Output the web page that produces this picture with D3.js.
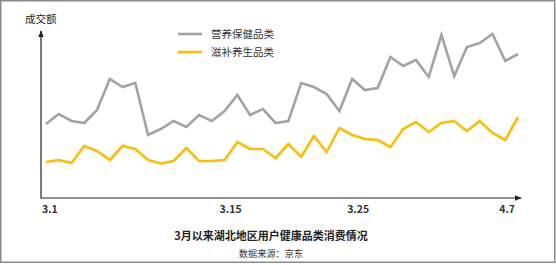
<!DOCTYPE html>
<html>
<head>
<meta charset="utf-8">
<script src="https://cdn.jsdelivr.net/npm/d3@7"></script>
<style>
  body { margin: 0; background: #fff; }
  text { font-family: "Noto Sans CJK SC", "Noto Sans", sans-serif; }
</style>
</head>
<body>
<div id="vis"></div>
<script>
// dates, 3.1 to 4.7
var dates = ['3.1', '3.2', '3.3', '3.4', '3.5', '3.6', '3.7', '3.8', '3.9', '3.10',
  '3.11', '3.12', '3.13', '3.14', '3.15', '3.16', '3.17', '3.18', '3.19', '3.20',
  '3.21', '3.22', '3.23', '3.24', '3.25', '3.26', '3.27', '3.28', '3.29', '3.30',
  '3.31', '4.1', '4.2', '4.3', '4.4', '4.5', '4.6', '4.7'];

// 营养保健品类
var nutrition = [74, 84, 77, 75, 88, 119, 111, 115, 63, 69,
  77, 71, 83, 77, 87, 103, 83, 89, 75, 77,
  115, 111, 104, 87, 119, 108, 110, 141, 132, 138,
  121, 163, 122, 151, 155, 164, 137, 144];

// 滋补养生品类
var tonic = [36, 38, 35, 52, 47, 38, 52, 49, 38, 34.5,
  37, 50, 37, 37, 38, 56, 49, 49, 40, 54,
  41, 62, 46, 70, 63, 59, 58, 51, 69, 76,
  66, 75, 77, 67, 77, 65, 58, 81];

var tickLabels = ['3.1', '3.15', '3.25', '4.7'];

var seriesNames = ['营养保健品类', '滋补养生品类'];
var seriesColors = ['#a3a3a3', '#fbbd08'];

var width = 556;
var height = 265;

var svg = d3.select('#vis').append('svg')
  .attr('width', width)
  .attr('height', height);

// frame
svg.append('rect')
  .attr('x', 0.75).attr('y', 0.75)
  .attr('width', 554).attr('height', 261.5)
  .attr('fill', 'none')
  .attr('stroke', '#8a8a8a')
  .attr('stroke-width', 1.5);

var x = d3.scaleLinear().domain([0, dates.length - 1]).range([46, 518]);
var y = d3.scaleLinear().domain([0, 170]).range([198, 28]);

// arrow heads
var defs = svg.append('defs');
defs.append('marker')
  .attr('id', 'arrow')
  .attr('viewBox', '0 0 10 10')
  .attr('refX', 9).attr('refY', 5)
  .attr('markerWidth', 6).attr('markerHeight', 6)
  .attr('orient', 'auto')
  .append('path')
  .attr('d', 'M0,1L10,5L0,9Z')
  .attr('fill', '#222');

var axisX0 = 41;
// y axis
svg.append('line')
  .attr('x1', axisX0).attr('y1', y(0) + 0.5)
  .attr('x2', axisX0).attr('y2', 31)
  .attr('stroke', '#222').attr('stroke-width', 1.2)
  .attr('marker-end', 'url(#arrow)');
// x axis
svg.append('line')
  .attr('x1', axisX0).attr('y1', y(0))
  .attr('x2', 521).attr('y2', y(0))
  .attr('stroke', '#222').attr('stroke-width', 1.2)
  .attr('marker-end', 'url(#arrow)');

svg.append('text')
  .attr('x', 25).attr('y', 22.5)
  .attr('font-size', 10.5)
  .attr('fill', '#222')
  .text('成交额');

// tick labels
var tickIdx = tickLabels.map(function (t) { return dates.indexOf(t); });
svg.append('g').selectAll('text')
  .data(tickIdx)
  .enter().append('text')
  .attr('x', function (d) { return x(d); })
  .attr('dx', function (d, i) {
    if (i === 0) { return -4; }
    if (i === tickIdx.length - 1) { return -3; }
    return 6;
  })
  .attr('y', 213)
  .attr('text-anchor', function (d, i) {
    if (i === 0) { return 'start'; }
    if (i === tickIdx.length - 1) { return 'end'; }
    return 'middle';
  })
  .attr('font-size', 10.5)
  .attr('font-weight', 'bold')
  .attr('fill', '#333')
  .text(function (d) { return dates[d]; });

// lines
var line = d3.line()
  .x(function (d, i) { return x(i); })
  .y(function (d) { return y(d); });

[nutrition, tonic].forEach(function (s, k) {
  svg.append('path')
    .datum(s)
    .attr('d', line)
    .attr('fill', 'none')
    .attr('stroke', seriesColors[k])
    .attr('stroke-width', 2.6)
    .attr('stroke-linejoin', 'miter');
});

// legend
var legend = svg.append('g').selectAll('g')
  .data(seriesNames)
  .enter().append('g')
  .attr('transform', function (d, i) { return 'translate(178,' + (34 + i * 18) + ')'; });

legend.append('line')
  .attr('x1', 0).attr('x2', 24)
  .attr('stroke', function (d, i) { return seriesColors[i]; })
  .attr('stroke-width', 2.6);

legend.append('text')
  .attr('x', 33).attr('y', 3.8)
  .attr('font-size', 10.5)
  .attr('fill', '#333')
  .text(function (d) { return d; });

// title
svg.append('text')
  .attr('x', 271).attr('y', 239.5)
  .attr('text-anchor', 'middle')
  .attr('font-size', 11)
  .attr('font-weight', 'bold')
  .attr('fill', '#222')
  .text('3月以来湖北地区用户健康品类消费情况');

svg.append('text')
  .attr('x', 271).attr('y', 256.5)
  .attr('text-anchor', 'middle')
  .attr('font-size', 9.2)
  .attr('fill', '#333')
  .text('数据来源：京东');
</script>
</body>
</html>
